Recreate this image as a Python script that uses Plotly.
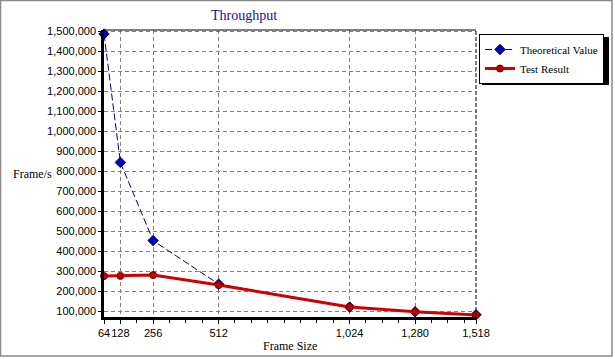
import plotly.graph_objects as go

frame_sizes = [64, 128, 256, 512, 1024, 1280, 1518]
theoretical = [1488095, 844595, 452899, 234962, 119732, 96154, 81274]
test_result = [275000, 276000, 280000, 230000, 120000, 96000, 80000]
x_tick_vals = [64, 128, 256, 512, 1024, 1280, 1518]
x_tick_text = ["64", "128", "256", "512", "1,024", "1,280", "1,518"]
y_tick_vals = list(range(100000, 1500001, 100000))
y_tick_text = [f"{v:,}" for v in y_tick_vals]

W, H = 615, 359
L, R, T, B = 104, 476, 30, 317

def px(p):
    return (p - L) / (R - L)

def py(p):
    return (B - p) / (B - T)

fig = go.Figure()
fig.add_trace(go.Scatter(
    x=frame_sizes, y=theoretical, name="Theoretical Value", mode="lines+markers",
    line=dict(color="#000080", width=1, dash="7px,3px"),
    marker=dict(symbol="diamond", size=8, color="#0000C0", line=dict(color="#000060", width=1)),
    cliponaxis=False,
))
fig.add_trace(go.Scatter(
    x=frame_sizes, y=test_result, name="Test Result", mode="lines+markers",
    line=dict(color="#D00000", width=3),
    marker=dict(symbol="circle", size=7, color="#C00000", line=dict(color="#700000", width=1)),
    cliponaxis=False,
))

serif = "Liberation Serif, Times New Roman, serif"
sans = "Liberation Sans, Arial, sans-serif"

LEG_X, LEG_Y = 479, 34
LEG_R, LEG_B = 606, 82

def label(text, x, y, size, color="black"):
    return dict(text=text, x=px(x), y=py(y), xref="paper", yref="paper",
                xanchor="center", yanchor="middle", showarrow=False,
                font=dict(family=serif, size=size, color=color))

fig.update_layout(
    width=W, height=H,
    margin=dict(l=L, r=W - R, t=T, b=H - B, autoexpand=False),
    paper_bgcolor="white", plot_bgcolor="white",
    showlegend=True,
    legend=dict(
        x=px(LEG_X), y=py(LEG_Y), xanchor="left", yanchor="top",
        bgcolor="white", bordercolor="black", borderwidth=1,
        font=dict(family=serif, size=11, color="black"),
        itemwidth=30, tracegroupgap=0,
    ),
    xaxis=dict(
        range=[64, 1518], tickvals=x_tick_vals, ticktext=x_tick_text,
        tickangle=0, automargin=False,
        showgrid=True, gridcolor="#808080", griddash="4px,3px", gridwidth=1,
        showline=True, linecolor="black", linewidth=2.5,
        ticks="outside", ticklen=4, tickcolor="black",
        minor=dict(dtick=64, tick0=0, ticks="outside", ticklen=3, tickcolor="black", showgrid=False),
        tickfont=dict(family=sans, size=11, color="black"),
        zeroline=False,
    ),
    yaxis=dict(
        range=[70000, 1508000], tickvals=y_tick_vals, ticktext=y_tick_text,
        automargin=False,
        showgrid=True, gridcolor="#808080", griddash="4px,3px", gridwidth=1,
        showline=True, linecolor="black", linewidth=2.5,
        ticks="outside", ticklen=3, tickcolor="black",
        tickfont=dict(family=sans, size=11, color="black"),
        zeroline=False,
    ),
    shapes=[
        dict(type="rect", xref="paper", yref="paper", x0=px(0.5), x1=px(612), y0=py(356), y1=py(0.5),
             line=dict(color="#8a8a8a", width=1.5), layer="below"),
        dict(type="line", xref="paper", yref="paper", x0=0, x1=1, y0=1, y1=1,
             line=dict(color="black", width=1)),
        dict(type="line", xref="paper", yref="paper", x0=1, x1=1, y0=0, y1=1,
             line=dict(color="black", width=1, dash="4px,2px")),
        dict(type="rect", xref="paper", yref="paper",
             x0=px(LEG_X + 3), x1=px(LEG_R + 3), y0=py(LEG_B + 3), y1=py(LEG_Y + 3),
             line=dict(width=0), fillcolor="black"),
    ],
    annotations=[
        label("Throughput", 244, 16, 14, "#1010A0"),
        label("Frame/s", 32, 174, 12),
        label("Frame Size", 290, 346, 12),
    ],
)

fig.write_html("out.html", post_script="document.body.style.margin='0';",
               config={"displayModeBar": False})
